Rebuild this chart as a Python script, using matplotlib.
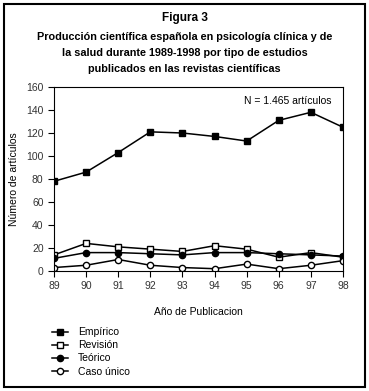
import matplotlib.pyplot as plt
from matplotlib.patches import Rectangle

years = [89, 90, 91, 92, 93, 94, 95, 96, 97, 98]
empirico = [78, 86, 103, 121, 120, 117, 113, 131, 138, 125]
revision = [14, 24, 21, 19, 17, 22, 19, 12, 16, 12]
teorico = [11, 16, 16, 15, 14, 16, 16, 15, 14, 13]
caso_unico = [3, 5, 10, 5, 3, 2, 6, 2, 5, 9]
yticks = [0, 20, 40, 60, 80, 100, 120, 140, 160]

plt.rcParams['font.family'] = ['Liberation Sans', 'DejaVu Sans']

fig = plt.figure(figsize=(3.69, 3.91), dpi=100)
fig.patch.set_facecolor('white')

# outer frame
fig.patches.append(Rectangle((4 / 369, 4 / 391), 361 / 369, 383 / 391,
                             transform=fig.transFigure, fill=False,
                             edgecolor='black', linewidth=1.5))

fig.text(0.5, 1 - 18 / 391, "Figura 3", ha='center', va='center',
         fontsize=8.5, fontweight='bold')
title = ("Producción científica española en psicología clínica y de\n"
         "la salud durante 1989-1998 por tipo de estudios\n"
         "publicados en las revistas científicas")
fig.text(0.5, 1 - 53 / 391, title, ha='center', va='center',
         fontsize=7.8, fontweight='bold', linespacing=1.75)

ax = fig.add_axes([54 / 369, 120 / 391, 289 / 369, 184 / 391])
lw = 1.1
ms = 4.5
h1, = ax.plot(years, empirico, color='black', lw=lw, marker='s', ms=ms,
              mfc='black', mec='black', label='Empírico')
h2, = ax.plot(years, revision, color='black', lw=lw, marker='s', ms=ms,
              mfc='white', mec='black', label='Revisión')
h3, = ax.plot(years, teorico, color='black', lw=lw, marker='o', ms=ms,
              mfc='black', mec='black', label='Teórico')
h4, = ax.plot(years, caso_unico, color='black', lw=lw, marker='o', ms=ms,
              mfc='white', mec='black', label='Caso único')

ax.set_xlim(89, 98)
ax.set_ylim(0, 160)
ax.set_xticks(years)
ax.set_yticks(yticks)
ax.tick_params(labelsize=7.5, length=4, width=0.8, colors='black',
               labelcolor='#333333')
for s in ax.spines.values():
    s.set_linewidth(0.8)

ax.set_ylabel("Número de artículos", fontsize=7.5, labelpad=5)
ax.set_xlabel("Año de Publicacion", fontsize=7.5, labelpad=11)
ax.text(0.96, 0.95, "N = 1.465 artículos", transform=ax.transAxes,
        ha='right', va='top', fontsize=7.5)

fig.legend(handles=[h1, h2, h3, h4], loc='upper left',
           bbox_to_anchor=(48 / 369, 1 - 323 / 391), frameon=False,
           fontsize=7.5, handlelength=1.5, handletextpad=1.0,
           labelspacing=0.3, borderaxespad=0)

fig.savefig("out.png", dpi=100)
